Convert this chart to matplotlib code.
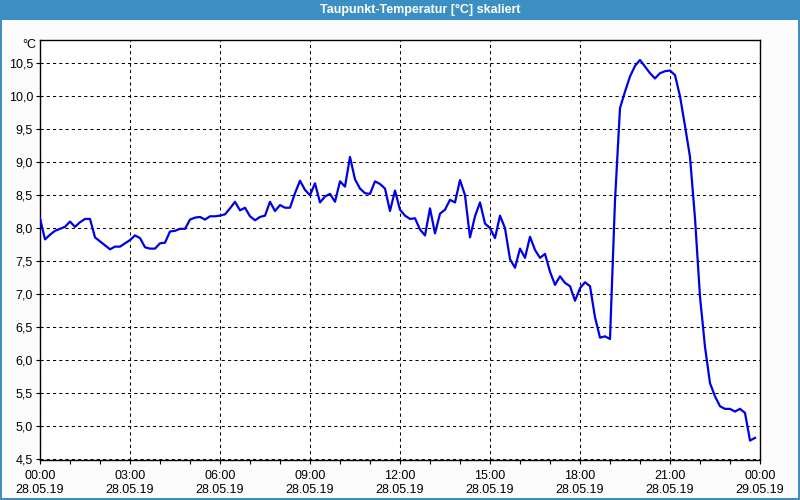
# Taupunkt-Temperatur, skaliert: 28.05.19 00:00 .. 29.05.19 00:00
import numpy as np
import pandas as pd
import matplotlib
matplotlib.use('Agg')
import matplotlib.pyplot as plt
import matplotlib.dates as mdates
from matplotlib.patches import Rectangle
from matplotlib.ticker import MultipleLocator, FuncFormatter

# 10-minute readings, first at 28.05.19 00:00
start = '2019-05-28 00:00'
n_points = 144
dewpoint = [
    8.15, 7.83, 7.90, 7.96, 7.99, 8.02, 8.10, 8.02, 8.09, 8.14,
    8.14, 7.86, 7.80, 7.74, 7.68, 7.72, 7.72, 7.77, 7.82, 7.89,
    7.85, 7.71, 7.69, 7.69, 7.77, 7.78, 7.95, 7.96, 7.99, 7.99,
    8.13, 8.16, 8.17, 8.13, 8.18, 8.18, 8.19, 8.21, 8.30, 8.40,
    8.27, 8.31, 8.18, 8.12, 8.17, 8.19, 8.40, 8.26, 8.35, 8.31,
    8.31, 8.53, 8.72, 8.58, 8.50, 8.68, 8.39, 8.48, 8.52, 8.40,
    8.71, 8.63, 9.08, 8.74, 8.60, 8.53, 8.52, 8.71, 8.67, 8.60,
    8.26, 8.57, 8.28, 8.19, 8.14, 8.15, 7.98, 7.89, 8.30, 7.92,
    8.22, 8.28, 8.43, 8.39, 8.73, 8.50, 7.86, 8.18, 8.39, 8.07,
    8.00, 7.85, 8.19, 8.00, 7.53, 7.40, 7.69, 7.55, 7.87, 7.67,
    7.55, 7.61, 7.34, 7.14, 7.27, 7.17, 7.12, 6.90, 7.09, 7.18,
    7.12, 6.65, 6.34, 6.36, 6.32, 8.42, 9.82, 10.07, 10.30, 10.46,
    10.55, 10.45, 10.35, 10.27, 10.35, 10.38, 10.39, 10.32, 10.00, 9.55,
    9.08, 8.15, 6.96, 6.20, 5.65, 5.45, 5.30, 5.26, 5.26, 5.22,
    5.26, 5.20, 4.78, 4.82,
]
times = pd.date_range(start, periods=n_points, freq='10min')

title = 'Taupunkt-Temperatur [°C] skaliert'
unit = '°C'

win_blue = '#3b8fc3'
font = ['Liberation Sans', 'DejaVu Sans']

fig = plt.figure(figsize=(8, 5), dpi=100, facecolor='#fbfcfb')

# window frame: title bar and thin border
fig.patches.append(Rectangle((0, 1 - 20 / 500), 1, 20 / 500, transform=fig.transFigure,
                             facecolor=win_blue, edgecolor='none', zorder=0))
fig.patches.append(Rectangle((0, 0), 2 / 800, 1, transform=fig.transFigure,
                             facecolor=win_blue, edgecolor='none', zorder=0))
fig.patches.append(Rectangle((1 - 2 / 800, 0), 2 / 800, 1, transform=fig.transFigure,
                             facecolor=win_blue, edgecolor='none', zorder=0))
fig.patches.append(Rectangle((0, 0), 1, 2 / 500, transform=fig.transFigure,
                             facecolor=win_blue, edgecolor='none', zorder=0))
fig.text(420 / 800, 1 - 10 / 500, title, color='white', fontsize=9,
         fontweight='bold', ha='center', va='center',
         family=['Liberation Sans Narrow', 'Liberation Sans', 'DejaVu Sans'])

ax = fig.add_axes([40 / 800, 40 / 500, 720 / 800, 420 / 500])
ax.set_facecolor('white')
ax.plot(times, dewpoint, color='#0000e6', lw=1.6, zorder=3)

ax.set_xlim(pd.Timestamp('2019-05-28 00:00'), pd.Timestamp('2019-05-29 00:00'))
ax.set_ylim(4.485, 10.853)

ax.xaxis.set_major_locator(mdates.HourLocator(byhour=range(0, 24, 3)))
ax.xaxis.set_minor_locator(mdates.HourLocator())
ax.xaxis.set_major_formatter(mdates.DateFormatter('%H:%M\n%d.%m.%y'))
ax.yaxis.set_major_locator(MultipleLocator(0.5))
ax.yaxis.set_major_formatter(FuncFormatter(lambda v, p: ('%.1f' % v).replace('.', ',')))

ax.grid(True, which='major', color='black', lw=0.75, linestyle=(0, (3, 3)))
for s in ax.spines.values():
    s.set_color('black')
    s.set_linewidth(1.0)

ax.tick_params(axis='both', which='both', direction='out', length=3, width=0.8,
               colors='black', labelsize=9)
ax.tick_params(axis='x', which='major', pad=4)
ax.tick_params(axis='y', which='major', pad=2)
for lab in ax.get_xticklabels() + ax.get_yticklabels():
    lab.set_family(font)
for lab in ax.get_xticklabels():
    lab.set_linespacing(1.25)

fig.text(36 / 800, 1 - 45 / 500, unit, fontsize=9, ha='right', va='center',
         family=font)

fig.savefig('out.png', dpi=100, facecolor=fig.get_facecolor())
